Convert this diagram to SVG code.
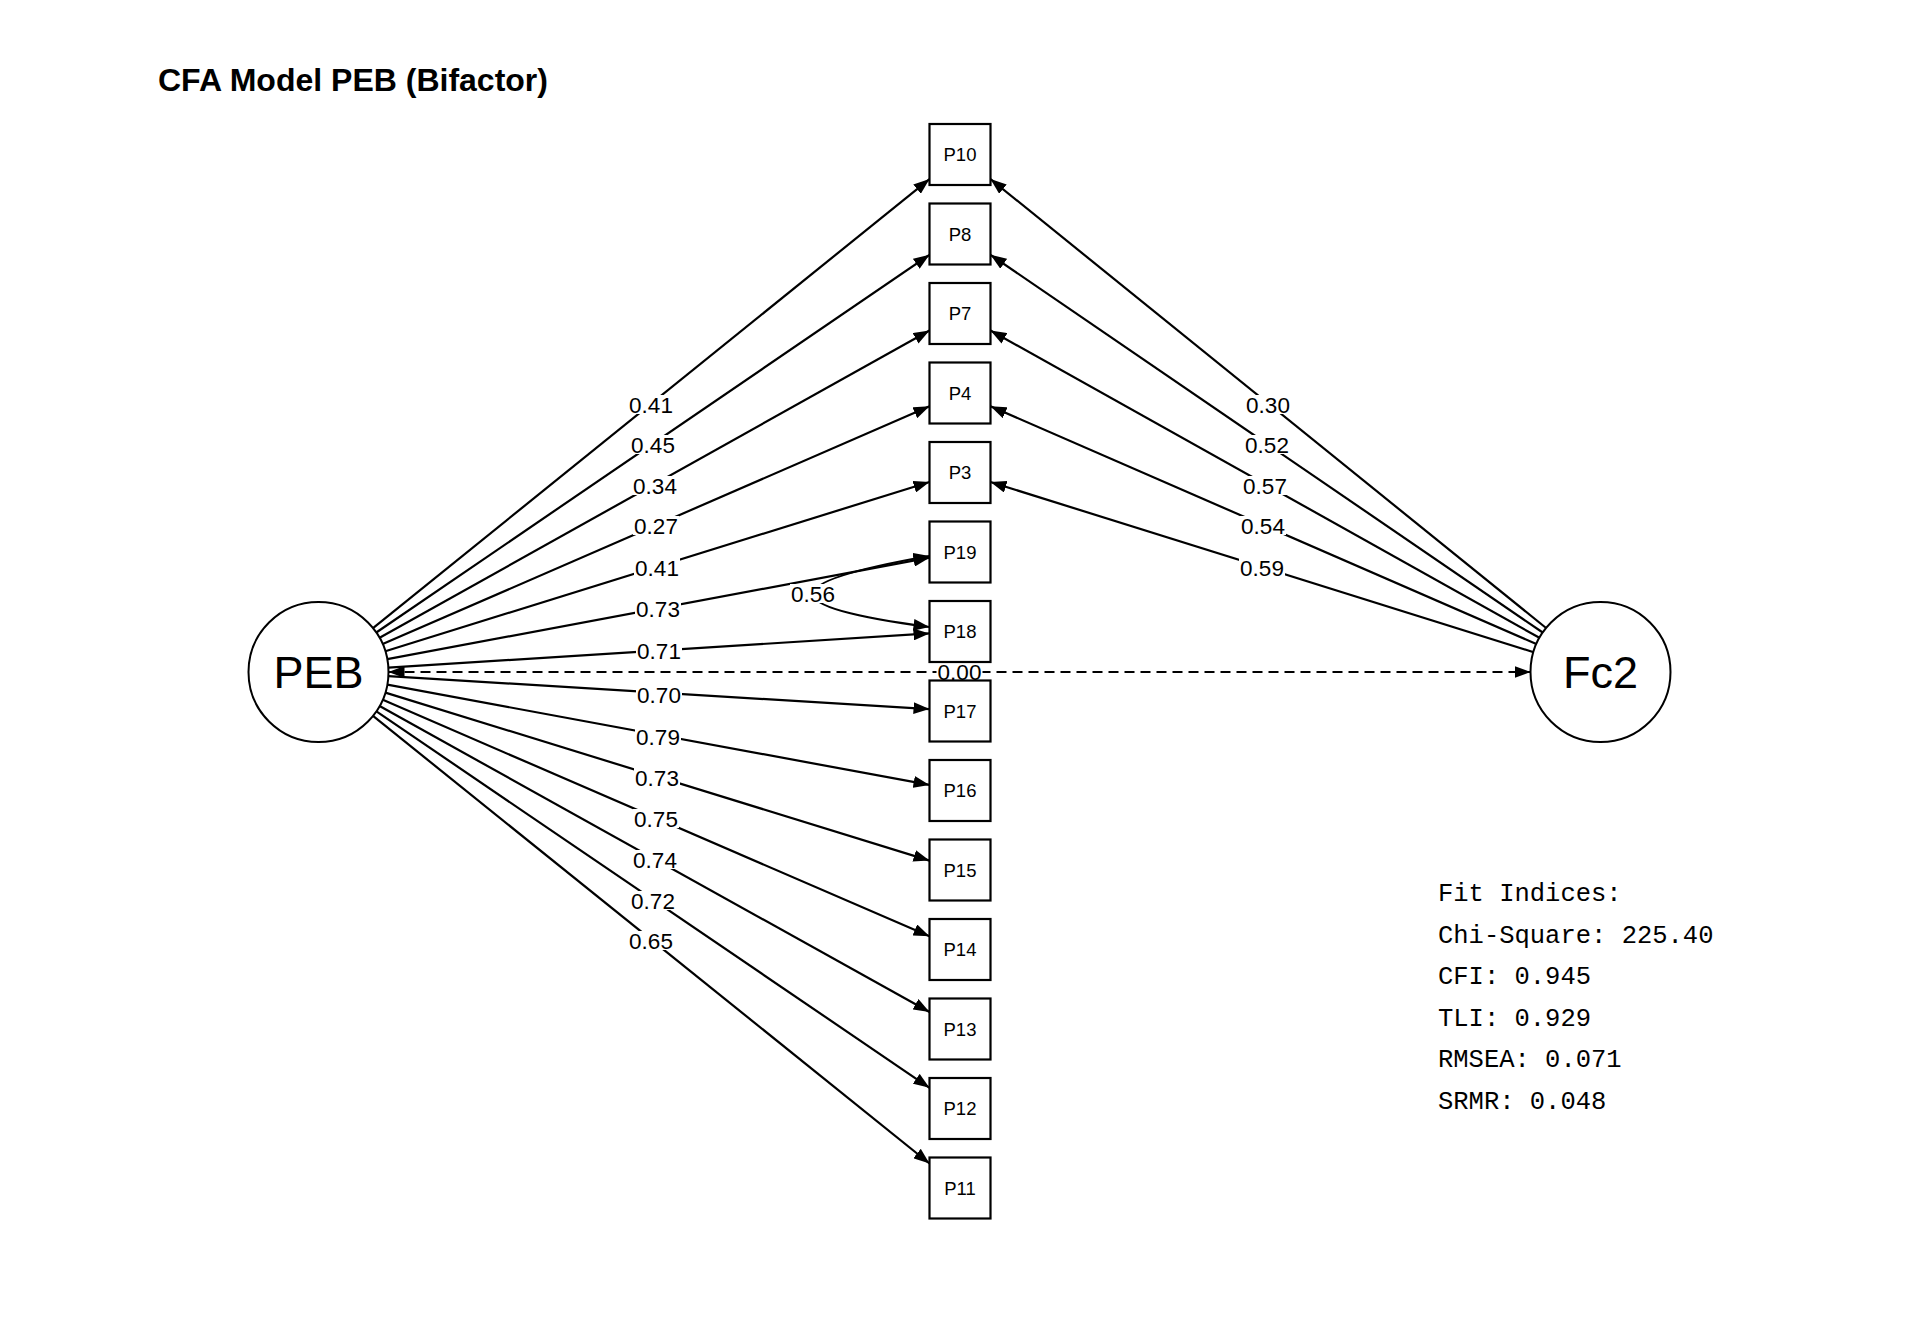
<svg xmlns="http://www.w3.org/2000/svg" width="1920" height="1344" viewBox="0 0 1920 1344">
<style>
.edge{fill:none;stroke:#000;stroke-width:2.2}
.dash{fill:none;stroke:#000;stroke-width:2.2;stroke-dasharray:10 6}
.box{fill:#fff;stroke:#000;stroke-width:2.2}
.lat{fill:#fff;stroke:#000;stroke-width:2}
.bl{font-family:"Liberation Sans",Arial,sans-serif;font-size:18.5px;text-anchor:middle}
.ll{font-family:"Liberation Sans",Arial,sans-serif;font-size:45px;text-anchor:middle}
.el rect{fill:#fff;stroke:none}
.el text{font-family:"Liberation Sans",Arial,sans-serif;font-size:22.5px;text-anchor:middle}
.fit{font-family:"Liberation Mono","Courier New",monospace;font-size:25.5px}
</style>
<defs>
<marker id="ah" viewBox="0 0 16 12" refX="16" refY="6" markerWidth="16" markerHeight="12" markerUnits="userSpaceOnUse" orient="auto-start-reverse">
<path d="M0,0 L16,6 L0,12 z" fill="#000"/>
</marker>
</defs>
<rect width="1920" height="1344" fill="#fff"/>
<text x="158" y="91" font-family="Liberation Sans,Arial,sans-serif" font-size="32" font-weight="bold">CFA Model PEB (Bifactor)</text>
<g id="connectors">
<path class="edge" marker-end="url(#ah)" d="M373,628.1 L929.5,179.1"/>
<path class="edge" marker-end="url(#ah)" d="M376.3,632.5 L929.5,254.8"/>
<path class="edge" marker-end="url(#ah)" d="M379.6,637.8 L929.5,330.5"/>
<path class="edge" marker-end="url(#ah)" d="M382.7,644.1 L929.5,406.3"/>
<path class="edge" marker-end="url(#ah)" d="M385.3,651.2 L929.5,482"/>
<path class="edge" marker-end="url(#ah)" d="M387.3,659.1 L929.5,557.7"/>
<path class="edge" marker-end="url(#ah)" d="M388.4,667.6 L929.5,633.4"/>
<path class="edge" marker-end="url(#ah)" d="M388.4,676.2 L929.5,709.1"/>
<path class="edge" marker-end="url(#ah)" d="M387.3,684.7 L929.5,784.9"/>
<path class="edge" marker-end="url(#ah)" d="M385.4,692.6 L929.5,860.6"/>
<path class="edge" marker-end="url(#ah)" d="M382.8,699.8 L929.5,936.3"/>
<path class="edge" marker-end="url(#ah)" d="M379.6,706 L929.5,1012"/>
<path class="edge" marker-end="url(#ah)" d="M376.4,711.4 L929.5,1087.8"/>
<path class="edge" marker-end="url(#ah)" d="M373,715.9 L929.5,1163.5"/>
<path class="edge" marker-end="url(#ah)" d="M1546.1,628 L990.5,179.1"/>
<path class="edge" marker-end="url(#ah)" d="M1542.7,632.5 L990.5,254.8"/>
<path class="edge" marker-end="url(#ah)" d="M1539.4,637.8 L990.5,330.5"/>
<path class="edge" marker-end="url(#ah)" d="M1536.3,644 L990.5,406.3"/>
<path class="edge" marker-end="url(#ah)" d="M1533.7,652.2 L990.5,482"/>
<path class="dash" marker-start="url(#ah)" marker-end="url(#ah)" d="M388.5,672 L1530.5,672"/>
<path class="edge" marker-start="url(#ah)" marker-end="url(#ah)" d="M929.5,556 Q696.5,596.5 929.5,627"/>
<g class="el">
<g transform="translate(651,405)"><rect x="-23" y="-10" width="46" height="19"/><text y="8">0.41</text></g>
<g transform="translate(653,445)"><rect x="-23" y="-10" width="46" height="19"/><text y="8">0.45</text></g>
<g transform="translate(655,486)"><rect x="-23" y="-10" width="46" height="19"/><text y="8">0.34</text></g>
<g transform="translate(656,526)"><rect x="-23" y="-10" width="46" height="19"/><text y="8">0.27</text></g>
<g transform="translate(657,568)"><rect x="-23" y="-10" width="46" height="19"/><text y="8">0.41</text></g>
<g transform="translate(658,609)"><rect x="-23" y="-10" width="46" height="19"/><text y="8">0.73</text></g>
<g transform="translate(659,651)"><rect x="-23" y="-10" width="46" height="19"/><text y="8">0.71</text></g>
<g transform="translate(659,695)"><rect x="-23" y="-10" width="46" height="19"/><text y="8">0.70</text></g>
<g transform="translate(658,737)"><rect x="-23" y="-10" width="46" height="19"/><text y="8">0.79</text></g>
<g transform="translate(657,778)"><rect x="-23" y="-10" width="46" height="19"/><text y="8">0.73</text></g>
<g transform="translate(656,819)"><rect x="-23" y="-10" width="46" height="19"/><text y="8">0.75</text></g>
<g transform="translate(655,860)"><rect x="-23" y="-10" width="46" height="19"/><text y="8">0.74</text></g>
<g transform="translate(653,901)"><rect x="-23" y="-10" width="46" height="19"/><text y="8">0.72</text></g>
<g transform="translate(651,941)"><rect x="-23" y="-10" width="46" height="19"/><text y="8">0.65</text></g>
<g transform="translate(1268,405)"><rect x="-23" y="-10" width="46" height="19"/><text y="8">0.30</text></g>
<g transform="translate(1267,445)"><rect x="-23" y="-10" width="46" height="19"/><text y="8">0.52</text></g>
<g transform="translate(1265,486)"><rect x="-23" y="-10" width="46" height="19"/><text y="8">0.57</text></g>
<g transform="translate(1263,526)"><rect x="-23" y="-10" width="46" height="19"/><text y="8">0.54</text></g>
<g transform="translate(1262,568)"><rect x="-23" y="-10" width="46" height="19"/><text y="8">0.59</text></g>
<g transform="translate(813,594)"><rect x="-23" y="-10" width="46" height="19"/><text y="8">0.56</text></g>
<g transform="translate(959.5,672)"><rect x="-23" y="-8" width="46" height="16"/><text y="8">0.00</text></g>
</g>
</g>
<g id="PEB"><circle class="lat" cx="318.5" cy="672" r="70"/><text class="ll" x="318.5" y="688">PEB</text></g>
<g id="Fc2"><circle class="lat" cx="1600.5" cy="672" r="70"/><text class="ll" x="1600.5" y="688">Fc2</text></g>
<g id="P10"><rect class="box" x="929.5" y="124" width="61" height="61"/><text class="bl" x="960" y="161">P10</text></g>
<g id="P8"><rect class="box" x="929.5" y="203.5" width="61" height="61"/><text class="bl" x="960" y="240.5">P8</text></g>
<g id="P7"><rect class="box" x="929.5" y="283" width="61" height="61"/><text class="bl" x="960" y="320">P7</text></g>
<g id="P4"><rect class="box" x="929.5" y="362.5" width="61" height="61"/><text class="bl" x="960" y="399.5">P4</text></g>
<g id="P3"><rect class="box" x="929.5" y="442" width="61" height="61"/><text class="bl" x="960" y="479">P3</text></g>
<g id="P19"><rect class="box" x="929.5" y="521.5" width="61" height="61"/><text class="bl" x="960" y="558.5">P19</text></g>
<g id="P18"><rect class="box" x="929.5" y="601" width="61" height="61"/><text class="bl" x="960" y="638">P18</text></g>
<g id="P17"><rect class="box" x="929.5" y="680.5" width="61" height="61"/><text class="bl" x="960" y="717.5">P17</text></g>
<g id="P16"><rect class="box" x="929.5" y="760" width="61" height="61"/><text class="bl" x="960" y="797">P16</text></g>
<g id="P15"><rect class="box" x="929.5" y="839.5" width="61" height="61"/><text class="bl" x="960" y="876.5">P15</text></g>
<g id="P14"><rect class="box" x="929.5" y="919" width="61" height="61"/><text class="bl" x="960" y="956">P14</text></g>
<g id="P13"><rect class="box" x="929.5" y="998.5" width="61" height="61"/><text class="bl" x="960" y="1035.5">P13</text></g>
<g id="P12"><rect class="box" x="929.5" y="1078" width="61" height="61"/><text class="bl" x="960" y="1115">P12</text></g>
<g id="P11"><rect class="box" x="929.5" y="1157.5" width="61" height="61"/><text class="bl" x="960" y="1194.5">P11</text></g>
<g id="fit">
<text class="fit" x="1438" y="901">Fit Indices:</text>
<text class="fit" x="1438" y="942.5">Chi-Square: 225.40</text>
<text class="fit" x="1438" y="984">CFI: 0.945</text>
<text class="fit" x="1438" y="1025.5">TLI: 0.929</text>
<text class="fit" x="1438" y="1067">RMSEA: 0.071</text>
<text class="fit" x="1438" y="1108.5">SRMR: 0.048</text>
</g>
</svg>
